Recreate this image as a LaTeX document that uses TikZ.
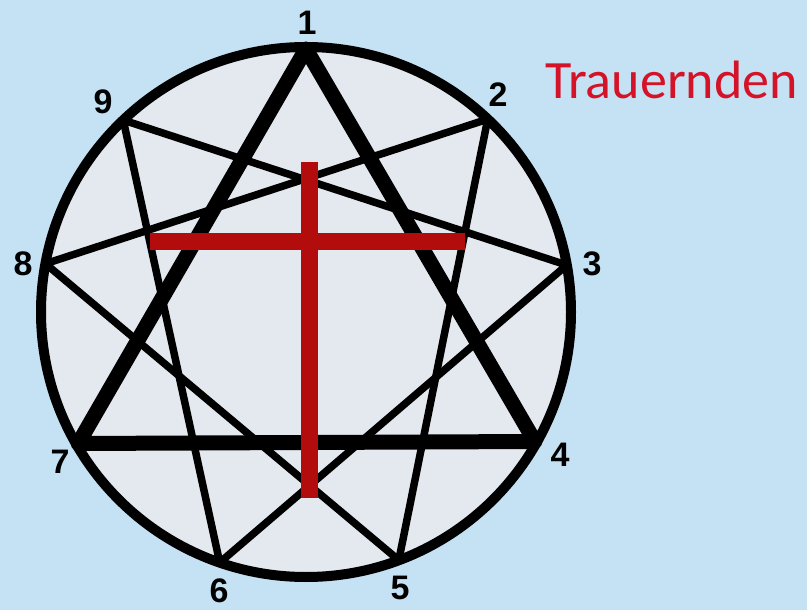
\documentclass[tikz,border=0pt]{standalone}
\usepackage{fontspec}
\setmainfont{Liberation Sans}
\newfontfamily\calib{Carlito}
\usetikzlibrary{calc}
\definecolor{bgblue}{RGB}{196,226,243}
\definecolor{discfill}{RGB}{228,233,240}
\definecolor{crossred}{RGB}{178,12,12}
\definecolor{titlered}{RGB}{212,18,40}
\tikzset{
  ringfill/.style={fill=discfill},
  ringline/.style={draw=black, line width=10pt},
  thinline/.style={draw=black, line width=7.5pt, line join=round},
  thickline/.style={draw=black, line width=15pt, line join=round},
  crossbar/.style={draw=crossred, line width=17pt},
  numlabel/.style={font=\fontsize{34}{34}\selectfont\bfseries, text=black, inner sep=0pt},
  titletext/.style={font=\calib\fontsize{54}{54}\selectfont, text=titlered, inner sep=0pt, anchor=base west}
}
\begin{document}
\begin{tikzpicture}[x=1pt,y=-1pt]
\fill[bgblue] (0,0) rectangle (807,610);
\useasboundingbox (0,0) rectangle (807,610);
\coordinate (c) at (306,312);
\fill[ringfill] (c) circle[radius=265];
% vertices on the circle (angles negated because the y axis points down)
\coordinate (p1) at ($(c)+(-90:263)$);
\coordinate (p2) at ($(c)+(-46.7:265)$);
\coordinate (p3) at ($(c)+(-10.2:265)$);
\coordinate (p4) at ($(c)+(29.5:263)$);
\coordinate (p5) at ($(c)+(69.5:265)$);
\coordinate (p6) at ($(c)+(109:265)$);
\coordinate (p7) at ($(c)+(150:263)$);
\coordinate (p8) at ($(c)+(-169.5:265)$);
\coordinate (p9) at ($(c)+(-133.6:265)$);
% thin triangles
\draw[thinline] (p2) -- (p5) -- (p8) -- cycle;
\draw[thinline] (p3) -- (p6) -- (p9) -- cycle;
% thick triangle
\draw[thickline] (p1) -- (p4) -- (p7) -- cycle;
% circle outline
\draw[ringline] (c) circle[radius=265];
% cross
\coordinate (vtop) at (309,162);
\coordinate (vbot) at (309,498);
\coordinate (hl) at (150,241);
\coordinate (hr) at (465,241);
\draw[crossbar] (vtop) -- (vbot);
\draw[crossbar] (hl) -- (hr);
% number labels
\node[numlabel] (n1) at (307,23) {1};
\node[numlabel] (n2) at (498,95) {2};
\node[numlabel] (n3) at (592,264) {3};
\node[numlabel] (n4) at (560,455) {4};
\node[numlabel] (n5) at (400,588) {5};
\node[numlabel] (n6) at (219,591) {6};
\node[numlabel] (n7) at (60,462) {7};
\node[numlabel] (n8) at (23,264) {8};
\node[numlabel] (n9) at (103,102) {9};
% title
\node[titletext] (title) at (545,99) {Trauernden};
\end{tikzpicture}
\end{document}
